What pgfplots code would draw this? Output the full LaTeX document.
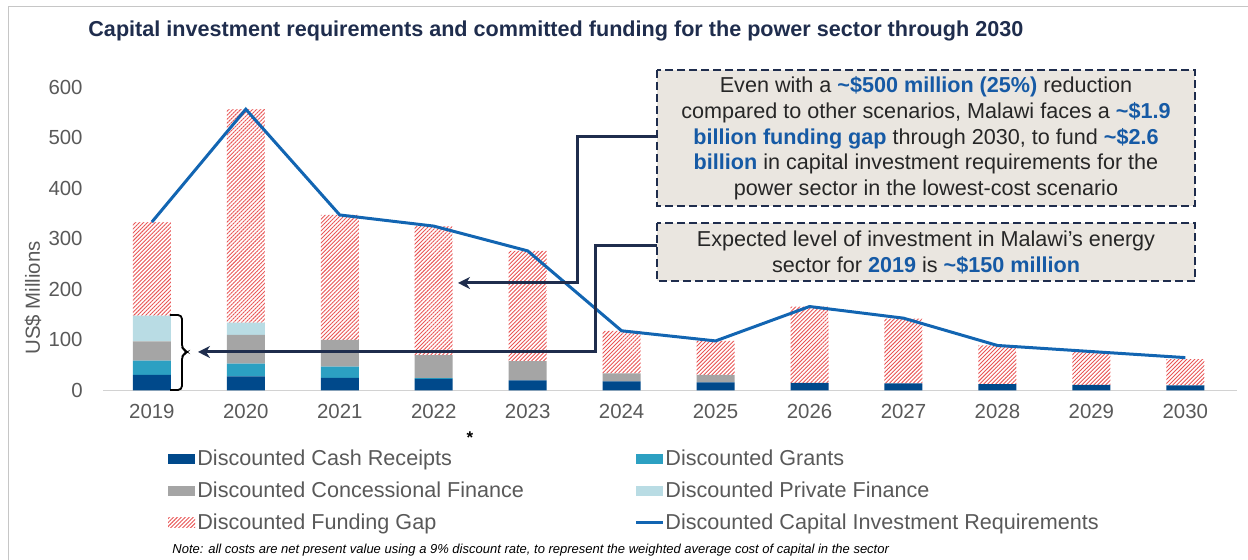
\documentclass[border=0pt]{standalone}
\usepackage{fontspec}
\setmainfont{Liberation Sans}
\usepackage{pgfplots}
\pgfplotsset{compat=1.18}
\usetikzlibrary{patterns.meta, arrows.meta}

\definecolor{cashc}{RGB}{0,73,139}
\definecolor{grantc}{RGB}{44,160,194}
\definecolor{concc}{RGB}{165,165,165}
\definecolor{privc}{RGB}{185,220,228}
\definecolor{gapc}{RGB}{232,85,85}
\definecolor{linec}{RGB}{18,101,178}
\definecolor{navy}{RGB}{31,45,77}
\definecolor{boxfill}{RGB}{234,230,224}
\definecolor{hl}{RGB}{22,90,165}
\definecolor{tickc}{RGB}{89,89,89}
\definecolor{txt}{RGB}{38,38,38}

\begin{document}
\begin{tikzpicture}[x=0.5pt,y=0.5pt]
\path[use as bounding box] (0,0) rectangle (1248,560);

% frame
\draw[gray!45, line width=0.5pt] (8,0) -- (8,553) -- (1248,553);

% title
\node[anchor=base west, inner sep=0pt, text=navy, font=\fontsize{10.8}{13}\selectfont\bfseries] at (88,523)
  {Capital investment requirements and committed funding for the power sector through 2030};

% y label
\node[rotate=90, inner sep=0pt, text=tickc, font=\fontsize{10.2}{12}\selectfont] at (33,262) {US\$ Millions};

\begin{axis}[
  at={(51.5pt,84.75pt)}, anchor=south west, scale only axis,
  width=567pt, height=151.75pt,
  xmin=-0.52, xmax=11.55, ymin=0, ymax=600,
  ybar stacked, bar width=19pt,
  axis x line*=bottom, axis y line*=left,
  x axis line style={draw=gray!35, line width=0.6pt, -},
  y axis line style={draw=none},
  major tick length=0pt,
  xtick={0,1,2,3,4,5,6,7,8,9,10,11},
  xticklabels={2019,2020,2021,2022,2023,2024,2025,2026,2027,2028,2029,2030},
  ytick={0,100,200,300,400,500,600},
  tick label style={font=\fontsize{10.2}{12}\selectfont, text=tickc},
  /pgf/number format/assume math mode=true,
  y tick label style={anchor=east, inner sep=0pt, xshift=-10pt},
  x tick label style={anchor=north, inner sep=0pt, yshift=-6.75pt},
  clip=false,
]
\addplot[fill=cashc, draw=none] coordinates {(0,31) (1,28) (2,25) (3,23) (4,20) (5,18) (6,16) (7,15) (8,14) (9,12.5) (10,11) (11,10)};
\addplot[fill=grantc, draw=none] coordinates {(0,28) (1,25) (2,22) (3,1.5) (4,0) (5,0) (6,0) (7,0) (8,0) (9,0) (10,0) (11,0)};
\addplot[fill=concc, draw=none] coordinates {(0,38) (1,57) (2,53) (3,45.5) (4,38) (5,16) (6,15) (7,0) (8,0) (9,0) (10,0) (11,0)};
\addplot[fill=privc, draw=none] coordinates {(0,51) (1,24) (2,0) (3,0) (4,0) (5,0) (6,0) (7,0) (8,0) (9,0) (10,0) (11,0)};
\addplot[pattern={Lines[angle=45, distance=1.4pt, line width=0.45pt]}, pattern color=gapc, draw=none]
  coordinates {(0,185) (1,422) (2,247) (3,255) (4,218) (5,84) (6,67) (7,151) (8,128) (9,76.5) (10,65) (11,52)};
\end{axis}

\begin{axis}[
  at={(51.5pt,84.75pt)}, anchor=south west, scale only axis,
  width=567pt, height=151.75pt,
  xmin=-0.52, xmax=11.55, ymin=0, ymax=600,
  hide axis, clip=false,
]
\addplot[linec, line width=1.5pt, mark=none] coordinates {(0,333) (1,556) (2,347) (3,325) (4,276) (5,118) (6,98) (7,166) (8,143) (9,89) (10,77) (11,65)};
\end{axis}

% boxes
\draw[navy, line width=1pt, dash pattern=on 4pt off 2pt, fill=boxfill] (657,490) rectangle (1195,354);
\draw[navy, line width=1pt, dash pattern=on 4pt off 2pt, fill=boxfill] (657,337) rectangle (1195,279);

\node[align=center, inner sep=0pt, text=txt, font=\fontsize{10.8}{12.85}\selectfont] at (926,421.5)
  {Even with a \textcolor{hl}{\bfseries\textasciitilde\$500 million (25\%)} reduction\\
   compared to other scenarios, Malawi faces a \textcolor{hl}{\bfseries\textasciitilde\$1.9}\\
   \textcolor{hl}{\bfseries billion funding gap} through 2030, to fund \textcolor{hl}{\bfseries\textasciitilde\$2.6}\\
   \textcolor{hl}{\bfseries billion} in capital investment requirements for the\\
   power sector in the lowest-cost scenario};
\node[align=center, inner sep=0pt, text=txt, font=\fontsize{10.8}{12.85}\selectfont] at (926,307.5)
  {Expected level of investment in Malawi’s energy\\
   sector for \textcolor{hl}{\bfseries 2019} is \textcolor{hl}{\bfseries\textasciitilde\$150 million}};

% arrows
\draw[navy, line width=1.5pt, -{Stealth[length=6pt,width=6pt]}] (657,423) -- (577,423) -- (577,277) -- (458,277);
\draw[navy, line width=1.5pt, -{Stealth[length=6pt,width=6pt]}] (657,314) -- (595,314) -- (595,208) -- (198,208);

% bracket
\draw[black, line width=0.9pt, rounded corners=2pt] (170,245) -- (182,245) -- (182,211) -- (188,208) -- (182,205) -- (182,170) -- (170,170);

% asterisk
\node[inner sep=0pt, font=\fontsize{8.5}{9}\selectfont\bfseries] at (470,122) {*};

% legend
\begin{scope}[font=\fontsize{10.8}{13}\selectfont]
\fill[cashc] (168,96) rectangle (195,106);
\node[anchor=base west, inner sep=0pt, text=tickc] at (197,94) {Discounted Cash Receipts};
\fill[grantc] (636,96) rectangle (663,106);
\node[anchor=base west, inner sep=0pt, text=tickc] at (665,94) {Discounted Grants};
\fill[concc] (168,64) rectangle (195,74);
\node[anchor=base west, inner sep=0pt, text=tickc] at (197,62) {Discounted Concessional Finance};
\fill[privc] (636,64) rectangle (663,74);
\node[anchor=base west, inner sep=0pt, text=tickc] at (665,62) {Discounted Private Finance};
\fill[pattern={Lines[angle=45, distance=1.4pt, line width=0.45pt]}, pattern color=gapc] (168,32) rectangle (195,42);
\node[anchor=base west, inner sep=0pt, text=tickc] at (197,30) {Discounted Funding Gap};
\draw[linec, line width=1.5pt] (636,37) -- (663,37);
\node[anchor=base west, inner sep=0pt, text=tickc] at (665,30) {Discounted Capital Investment Requirements};
\end{scope}

% note
\node[anchor=base west, inner sep=0pt, text=black, font=\fontsize{6.5}{8}\selectfont\itshape] at (172,6)
  {Note: all costs are net present value using a 9\% discount rate, to represent the weighted average cost of capital in the sector};
\end{tikzpicture}
\end{document}
